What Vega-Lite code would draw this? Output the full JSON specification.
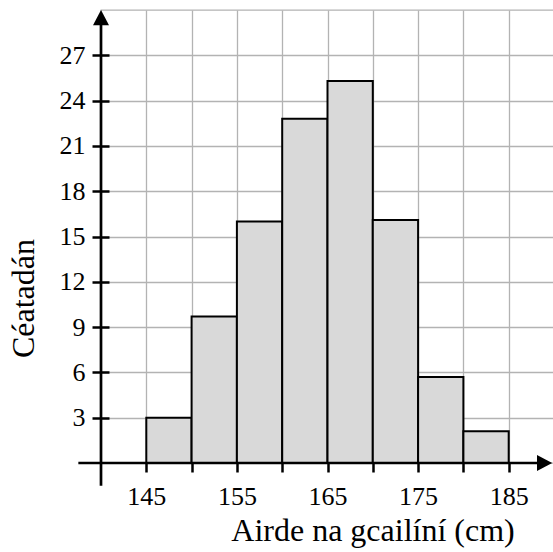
{
  "$schema": "https://vega.github.io/schema/vega-lite/v6.json",
  "width": 453,
  "height": 453,
  "autosize": {"type": "none"},
  "padding": {"left": 101, "top": 10, "right": 0, "bottom": 89},
  "background": "white",
  "config": {
    "view": {"stroke": "#b3b3b3", "strokeWidth": 1.3},
    "font": "Liberation Serif"
  },
  "datasets": {
    "bars": [
      {"start": 145, "end": 150, "percent": 3.0},
      {"start": 150, "end": 155, "percent": 9.7},
      {"start": 155, "end": 160, "percent": 16.0},
      {"start": 160, "end": 165, "percent": 22.8},
      {"start": 165, "end": 170, "percent": 25.3},
      {"start": 170, "end": 175, "percent": 16.1},
      {"start": 175, "end": 180, "percent": 5.7},
      {"start": 180, "end": 185, "percent": 2.1}
    ],
    "xaxis": [{"from": 137.5, "to": 189, "level": 0}],
    "yaxis": [{"pos": 140, "from": -1.5, "to": 29}],
    "xarrow": [{"x": 189.8, "y": 0}],
    "yarrow": [{"x": 140, "y": 30}]
  },
  "layer": [
    {
      "data": {"name": "bars"},
      "mark": {"type": "rect", "fill": "#d9d9d9", "stroke": "black", "strokeWidth": 2},
      "encoding": {
        "x": {
          "field": "start",
          "type": "quantitative",
          "scale": {"domain": [140, 190], "nice": false, "zero": false},
          "axis": {
            "title": "Airde na gcailíní (cm)",
            "values": [145, 150, 155, 160, 165, 170, 175, 180, 185],
            "labelExpr": "datum.value % 10 == 5 ? datum.label : ''",
            "domain": false,
            "grid": true,
            "gridColor": "#b3b3b3",
            "gridWidth": 1.3,
            "tickColor": "black",
            "tickWidth": 2.5,
            "tickSize": 9,
            "labelFont": "Liberation Serif",
            "labelFontSize": 26,
            "labelColor": "black",
            "labelPadding": 32,
            "labelBaseline": "alphabetic",
            "labelFlush": false,
            "labelOverlap": false,
            "titleFont": "Liberation Serif",
            "titleFontSize": 32,
            "titleFontWeight": "normal",
            "titleColor": "black",
            "titleX": 271.5,
            "titleY": 77,
            "titleBaseline": "alphabetic",
            "titleAlign": "center"
          }
        },
        "x2": {"field": "end"},
        "y": {
          "field": "percent",
          "type": "quantitative",
          "scale": {"domain": [0, 30], "nice": false, "zero": false},
          "axis": {
            "title": "Céatadán",
            "values": [3, 6, 9, 12, 15, 18, 21, 24, 27],
            "offset": -8,
            "domain": false,
            "grid": true,
            "gridColor": "#b3b3b3",
            "gridWidth": 1.3,
            "tickColor": "black",
            "tickWidth": 2.5,
            "tickSize": 17,
            "labelFont": "Liberation Serif",
            "labelFontSize": 26,
            "labelColor": "black",
            "labelPadding": 7,
            "labelFlush": false,
            "labelOverlap": false,
            "titleFont": "Liberation Serif",
            "titleFontSize": 32,
            "titleFontWeight": "normal",
            "titleColor": "black",
            "titleAngle": -90,
            "titleX": -76,
            "titleY": 288,
            "titleBaseline": "alphabetic",
            "titleAlign": "center"
          }
        },
        "y2": {"datum": 0}
      }
    },
    {
      "data": {"name": "xaxis"},
      "mark": {"type": "rule", "color": "black", "strokeWidth": 2.7},
      "encoding": {
        "x": {"field": "from", "type": "quantitative"},
        "x2": {"field": "to"},
        "y": {"field": "level", "type": "quantitative"}
      }
    },
    {
      "data": {"name": "yaxis"},
      "mark": {"type": "rule", "color": "black", "strokeWidth": 2.7},
      "encoding": {
        "x": {"field": "pos", "type": "quantitative"},
        "y": {"field": "from", "type": "quantitative"},
        "y2": {"field": "to"}
      }
    },
    {
      "data": {"name": "xarrow"},
      "mark": {"type": "point", "shape": "M0,0L-1.9,-1L-1.9,1Z", "filled": true, "size": 256, "color": "black", "opacity": 1},
      "encoding": {
        "x": {"field": "x", "type": "quantitative"},
        "y": {"field": "y", "type": "quantitative"}
      }
    },
    {
      "data": {"name": "yarrow"},
      "mark": {"type": "point", "shape": "M0,0L-1,1.9L1,1.9Z", "filled": true, "size": 256, "color": "black", "opacity": 1},
      "encoding": {
        "x": {"field": "x", "type": "quantitative"},
        "y": {"field": "y", "type": "quantitative"}
      }
    }
  ]
}
